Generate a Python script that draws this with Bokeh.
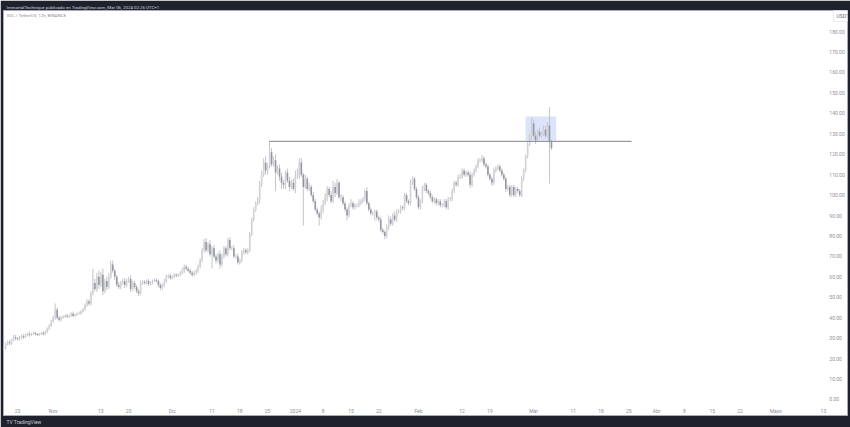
from bokeh.plotting import figure
from bokeh.models import Range1d, LinearAxis, FixedTicker, Label, NumeralTickFormatter, Title
from bokeh.embed import file_html
from bokeh.resources import INLINE

closes = [
 25.5,27,28,27.5,29,30.5,30,29.5,30,31,30.5,31.5,32,31.5,32,32.5,32,31.5,32,32.5,32,33,34.5,36,
 38,40,44,40,39,40,40.5,41,40.5,41,42,41,41.5,42,42,43,44,46,48,47,
 52,57,54,60,56,61,53,58,55,60,66,63,60,56,55,57,58,56,58,59,
 54,57,55,53,52,57,57.5,57,58,56.5,57,58,58.5,58,56,54.5,56,58,
 60,60.5,59.5,60,61,60.5,61,62,63,65,64,63,62,61,62,63,65,68,73,77,
 73,76,71,74,70,68,71,66,70,74,71,78,74,74,70,70,67,68,72,73,72,73,81,88,93,96,98,
 105,110,116,112,114,121,115,117,111,113,109,106,105,111,107,104,106,103,109,109,116,110,104,
 108,103,104,100,97,93,91,89,93,96,99,103,100,97,104,101,106,99,99,96,93,90,95,96,94,95,95,96,97,98,102,96,93,91,91,92,89,88,83,
 82,80,84,88,86,90,88,92,92,94,93.5,100,97,96,106,108,103,99,94,97,103,105,102,101,99,97,98,96,97,95,95,97,94,98,98,
 102,106,105,109,109,112,110,111,110,105,110,112,114,117,117,118,115,114,110,108,106,112,113,114,112,110,108,103,104,100,104,100,103,102,100,108,
 112,119,125,129,135,129,127,131,129,130,132,129,134,126,123]
upper_wicks = [
 1,.8,.7,1,.8,1,1.2,.5,1,.8,1,.6,.7,1.2,.6,.5,.8,.5,.6,.4,1,.8,.7,.8,
 1,1,3,1,.8,1,.7,.5,1,.6,.7,1,.5,.6,1,.8,.7,1,1,1,
 1,7,2,2,3,1.5,3,1,2,2,2,2,1,1,1.5,1,1,1.5,1,1,
 2,1,1,1,1,1,1,.8,.6,1,.8,.7,.6,1,.8,1,.8,1,
 1,.8,1,.8,.8,.8,.6,.7,1.5,1,1,1,1,1,.8,.8,1,1,1,1.5,
 2,1,2,1,1.5,1,1,2,1.5,1,1,1,1.5,1,1.5,1,1.5,1,1,1,1,1,1,1,1,1,1,
 2,2,2,3,1.5,5.7,2,2,3,1.5,2,2,1.5,1,2,2,1.5,2,3,4,2,2,1,
 2,1,2,1,1.5,1,1,1,2,1.5,2,1.5,1,2,3,2,2,1,1.5,1,1,1,1,2,1,1,1,2,1,1,1,2,1,1,1,1,1,1,1.5,
 1,.8,1.5,2,1.5,1,2,1,1,1,1,1,1,1,1.5,1,1,1,1,1,1.5,1,1,1,1,1,1,1,1,1,1,1,1,1,1,
 1,1,1,1,1.5,1,1,1,1,1.5,1,1,1,1,1,1.5,1,1,1,1,1,1.5,1,1,1,1,1,1,1,1,1,1,1,1,1,1,
 1,1,1,1,3,2,2,1,2,1,2,2,1.5,9,1]
lower_wicks = [
 .8,1,.6,1,.8,.5,1,.6,.7,.5,1,.5,.6,.8,.5,.5,.8,.5,.5,.4,.8,.5,.5,.6,
 .5,.5,1,1,1,.6,.5,.7,.5,.6,.6,.8,.5,.6,.6,.5,.5,.6,.6,1,
 1,1,1,1.5,2,1,2,1,1.5,1,1,1,1.5,1,1,1,1,1.5,1,1,
 1.5,1,1,1,1.5,1,1,.8,.8,1,.8,.7,.6,.8,1,1,.8,1,
 .8,.8,1,.8,.7,.7,.6,.7,.8,1,1,.8,1,1,.8,1,1,.8,1,1,
 1,1,1,7,1,1.5,1,2,1,1,1,1,1,1,1,1,1,1,1,1,1,1,1,1,1,1,1,
 2,1,1,2,2,1,1,1,9,1,2,3,2,2,1,2,1,1,2,1,1,1,19,
 1,1,1,1,1,1,1,4,1,2,1,2,1,1,1,2,1,1,2,1,1,2.5,1,1,1,1,1,1,1,1,1,1,1,1,1,3.5,1,1,1,
 1,1.5,1,1,1,1,1,1,1,1,1,1,1,1,1,1,1,1,1,1,1,1,1,1,1,1,1,1,1,1,1,1,1,1,1,
 1,1,1,1,1,1,1,1,1,1.5,1,1,1,1,1,1,1,1,1,1,1.5,1,1,1,1,1,1,1.5,1,1,1,1,1,1,1,1,
 1,1,1,1,2,1,2,1,1,1,1,1,1,20.4,1]
assert len(closes) == len(upper_wicks) == len(lower_wicks), (len(closes), len(upper_wicks), len(lower_wicks))

first_open = 25.0
first_bar_day = -3.5        # days since 23 Oct 2023
bar_days = 0.5              # 12h candles

price_ticks = list(range(0, 190, 10))
date_ticks = [0, 9, 21, 28, 39, 49, 56, 63, 70, 77, 84, 91, 101, 112, 119, 130, 140, 147, 154, 161, 168, 175, 182, 191, 203]
date_labels = ["23", "Nov", "13", "20", "Dic", "11", "18", "25", "2024", "8", "15", "22", "Feb", "12", "19",
               "Mar", "11", "18", "25", "Abr", "8", "15", "22", "Mayo", "13"]

level_price = 126.3
level_days = (63.5, 154.7)
zone_days = (128.0, 135.7)
zone_prices = (126.7, 138.5)

DARK = "#1e222d"
opens = [first_open] + closes[:-1]
days = [first_bar_day + bar_days * i for i in range(len(closes))]
highs = [max(o, c) + u for o, c, u in zip(opens, closes, upper_wicks)]
lows = [min(o, c) - l for o, c, l in zip(opens, closes, lower_wicks)]
up = [c >= o for o, c in zip(opens, closes)]

p = figure(width=850, height=427, output_backend="svg", toolbar_location=None,
           x_range=Range1d(-3.526, 209.07), y_range=Range1d(-7.83, 190.3),
           x_axis_type=None, y_axis_type=None,
           min_border_left=3, min_border_right=3, min_border_top=10, min_border_bottom=12,
           background_fill_color="white", border_fill_color=DARK, outline_line_color="#a9acb5")
p.grid.visible = False

p.quad(left=[zone_days[0]], right=[zone_days[1]], bottom=[zone_prices[0]], top=[zone_prices[1]],
       fill_color="#dbe4fb", line_color=None)

p.segment(days, lows, days, highs, line_color="#c4c5cb", line_width=1)
w = bar_days * 0.8
for flag, col in ((True, "#d2d3d8"), (False, "#9496a0")):
    idx = [i for i, f in enumerate(up) if f is flag]
    p.vbar(x=[days[i] for i in idx], width=w,
           bottom=[min(opens[i], closes[i]) for i in idx],
           top=[max(opens[i], closes[i]) for i in idx],
           fill_color=col, line_color=None)

p.segment([level_days[0]], [level_price], [level_days[1]], [level_price], line_color="#7e818c", line_width=1)

ya = LinearAxis(ticker=FixedTicker(ticks=price_ticks), formatter=NumeralTickFormatter(format="0.00"),
                fixed_location=204.5, axis_line_color=None, major_tick_line_color=None, minor_tick_line_color=None,
                major_tick_in=0, major_tick_out=0, minor_tick_in=0, minor_tick_out=0,
                major_label_text_font="Roboto", major_label_text_font_size="5px",
                major_label_text_color="#8c8f99", major_label_standoff=0)
p.add_layout(ya, "right")
xa = LinearAxis(ticker=FixedTicker(ticks=date_ticks),
                major_label_overrides=dict(zip(date_ticks, date_labels)),
                fixed_location=-4.2, axis_line_color=None, major_tick_line_color=None, minor_tick_line_color=None,
                major_tick_in=0, major_tick_out=0, minor_tick_in=0, minor_tick_out=0,
                major_label_text_font="Roboto", major_label_text_font_size="5px",
                major_label_text_color="#8c8f99", major_label_standoff=0)
p.add_layout(xa, "below")

def note(x, y, text, size, color, **kw):
    # Label screen units are measured from the frame's lower-left corner
    p.add_layout(Label(x=x - 3, y=415 - y, x_units="screen", y_units="screen", text=text, text_font="Roboto",
                       text_font_size=size, text_color=color,
                       text_baseline="middle", level="overlay", **kw))

note(6, 14.5, "SOL / TetherUS, 12h, BINANCE", "4.4px", "#8a8d97")
note(833, 15, "USDT", "5px", "#6a6d78", border_line_color="#e9eaed", background_fill_color="white", padding=3)

p.add_layout(Title(text="ImmortalTechnique publicado en TradingView.com, Mar 06, 2024 02:26 UTC+1", align="left",
                   offset=3, standoff=2, text_font="Roboto", text_font_size="4.4px", text_font_style="normal",
                   text_color="#d1d4dc"), "above")
p.add_layout(Title(text="TV  TradingView", align="left", offset=3, standoff=3, text_font="Roboto",
                   text_font_size="5px", text_font_style="normal", text_color="#c9ccd4"), "below")

open("out.html", "w").write(file_html(p, INLINE))
